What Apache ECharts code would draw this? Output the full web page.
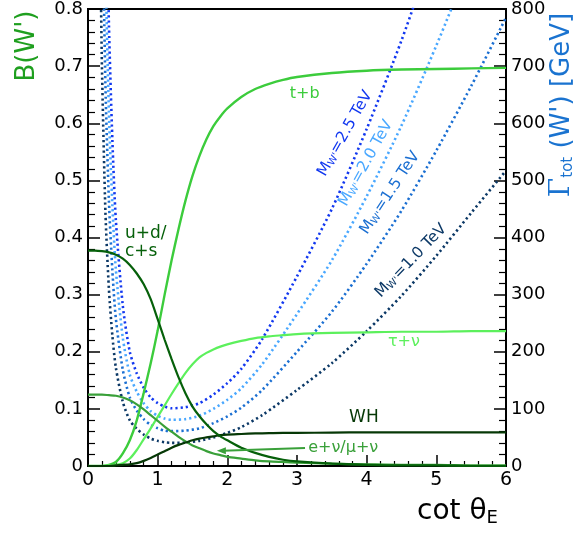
<!DOCTYPE html>
<html><head><meta charset="utf-8">
<script src="https://cdn.jsdelivr.net/npm/echarts@6/dist/echarts.min.js"></script>
<style>html,body{margin:0;padding:0;background:#fff}#c{width:578px;height:536px}</style>
</head><body><div id="c"></div>
<script>
// ---- Branching ratios B(W') vs cot(theta_E) ----
const cot = [0,0.1,0.2,0.3,0.4,0.5,0.6,0.7,0.8,0.9,1.0,1.1,1.2,1.3,1.4,1.5,1.6,1.7,1.8,1.9,2.0,2.2,2.4,2.6,2.8,3.0,3.5,4.0,4.5,5.0,5.5,6.0];
const brTB   = [0,0,0,0.002,0.007,0.022,0.045,0.08,0.128,0.18,0.237,0.30,0.36,0.415,0.465,0.508,0.543,0.572,0.595,0.612,0.626,0.646,0.66,0.669,0.676,0.681,0.688,0.692,0.694,0.695,0.696,0.697];
const brTau  = [0,0,0,0.001,0.002,0.005,0.013,0.028,0.047,0.066,0.086,0.106,0.126,0.145,0.163,0.178,0.19,0.198,0.204,0.209,0.213,0.219,0.224,0.227,0.229,0.231,0.233,0.234,0.235,0.235,0.236,0.236];
const brWH   = [0,0,0,0,0.001,0.002,0.003,0.005,0.009,0.014,0.02,0.026,0.032,0.037,0.041,0.045,0.048,0.05,0.052,0.054,0.055,0.056,0.057,0.0575,0.058,0.058,0.0585,0.059,0.059,0.059,0.059,0.059];
const brENu  = [0.125,0.125,0.125,0.124,0.123,0.12,0.115,0.108,0.099,0.089,0.079,0.069,0.06,0.051,0.043,0.036,0.031,0.026,0.022,0.019,0.016,0.013,0.01,0.008,0.007,0.006,0.004,0.003,0.002,0.002,0.001,0.001];
const brUDCS = [0.377,0.377,0.376,0.374,0.37,0.363,0.352,0.337,0.318,0.292,0.257,0.221,0.187,0.155,0.127,0.104,0.087,0.073,0.061,0.052,0.045,0.032,0.023,0.016,0.011,0.008,0.004,0.002,0.001,0.001,0,0];

// ---- Total width Gamma_tot(W') [GeV] ----
const cotW = [0.18,0.2,0.25,0.3,0.35,0.4,0.5,0.6,0.7,0.8,0.9,1.0,1.1,1.2,1.4,1.6,1.8,2.0,2.2,2.5,3.0,3.5,4.0,4.5,5.0,5.5,6.0];
const width10 = [880,700,445,310,228,172,112,80,65,55,48,44,41.5,40.5,41,44,50,58,68,89,133,180,236,298,368,443,517];
const width15 = [1320,1050,668,465,342,258,168,120,97,82,72,66,62,61,62,66,75,87,102,133,200,270,354,447,552,665,785];
const width20 = [1760,1400,890,620,456,344,224,160,130,110,96,88,83,81,82,88,100,116,136,178,266,360,472,596,736,886,1034];
const width25 = [2200,1750,1112,775,570,430,280,200,162,137,120,110,104,101,103,110,125,145,170,222,332,450,590,745,920,1108,1293];

const leftTicks = {min:0, max:0.8, interval:0.1};
const rightTicks = {min:0, max:800, interval:100};
const xTicks = {min:0, max:6, interval:1};

const FONT = 'DejaVu Sans';
const pairs = (xs, ys) => xs.map((x,i)=>[x, ys[i]]);

const chart = echarts.init(document.getElementById('c'), null, {renderer:'canvas'});

function mkAxis(extra, tickLen, minorLen) {
  return Object.assign({
    axisLine:{show:true, onZero:false, lineStyle:{color:'#000', width:2}},
    axisTick:{show:true, inside:true, length:tickLen, lineStyle:{color:'#000', width:1.5}},
    minorTick:{show:true, splitNumber:5, length:minorLen, lineStyle:{color:'#000', width:1.2}},
    splitLine:{show:false},
    minorSplitLine:{show:false}
  }, extra);
}

function brSeries(name, ys, color, w) {
  return {name, type:'line', xAxisIndex:0, yAxisIndex:0, data:pairs(cot, ys), showSymbol:false,
    smooth:0.25, lineStyle:{color, width:w}, z:3};
}
function wSeries(name, ys, color) {
  return {name, type:'line', xAxisIndex:0, yAxisIndex:1, data:pairs(cotW, ys), showSymbol:false,
    smooth:0.25, clip:true, lineStyle:{color, width:2.6, type:[2.2,3]}, z:2};
}

chart.setOption({
  animation:false,
  backgroundColor:'#fff',
  grid:{left:88, right:72, top:8, bottom:70, show:true, borderColor:'#000', borderWidth:2, backgroundColor:'transparent', z:0},
  xAxis:[mkAxis({type:'value', position:'bottom', min:xTicks.min, max:xTicks.max, interval:xTicks.interval,
    axisLabel:{color:'#000', fontFamily:FONT, fontSize:19, margin:5}}, 11, 5)],
  yAxis:[
    mkAxis({type:'value', position:'left', min:leftTicks.min, max:leftTicks.max, interval:leftTicks.interval,
      axisLabel:{color:'#000', fontFamily:FONT, fontSize:18, margin:5}}, 12, 7),
    mkAxis({type:'value', position:'right', min:rightTicks.min, max:rightTicks.max, interval:rightTicks.interval,
      axisLabel:{color:'#000', fontFamily:FONT, fontSize:18, margin:5}}, 12, 7)
  ],
  series:[
    wSeries('M1.0', width10, '#0b3866'),
    wSeries('M1.5', width15, '#1b6fd2'),
    wSeries('M2.0', width20, '#4aa8ff'),
    wSeries('M2.5', width25, '#1238f0'),
    brSeries('t+b', brTB, '#3ccc3c', 2.4),
    brSeries('tau+nu', brTau, '#5cf05c', 2.2),
    brSeries('e+nu', brENu, '#39a039', 2.2),
    brSeries('WH', brWH, '#063806', 2.2),
    brSeries('u+d', brUDCS, '#06600a', 2.2)
  ]
});

const pL = (x,y)=>chart.convertToPixel({xAxisIndex:0, yAxisIndex:0}, [x,y]);
const pR = (x,y)=>chart.convertToPixel({xAxisIndex:0, yAxisIndex:1}, [x,y]);

function txt(p, text, color, size, opts) {
  opts = opts || {};
  return {type:'text', x:p[0], y:p[1], rotation:opts.rot||0, z:10,
    style:{text, fill:color, font:(size)+'px "'+FONT+'"', align:opts.align||'center', verticalAlign:'middle',
      rich:opts.rich}};
}
function massLabel(p, m, color, deg) {
  return txt(p, '{m|M}{s|W\'}{m|=' + m + ' TeV}', color, 15, {rot:deg*Math.PI/180,
    rich:{m:{fontFamily:FONT, fontSize:15.5, fill:color}, s:{fontFamily:FONT, fontSize:10, fill:color, verticalAlign:'bottom', padding:[6,0,0,0]}}});
}

const a1 = pL(3.115, 0.0314), a2 = pL(1.85, 0.0267);
const graphics = [
  txt(pL(3.11,0.652), 't+b', '#3ccc3c', 16),
  txt(pL(4.535,0.218), 'τ+ν', '#5cf05c', 16),
  txt(pL(3.96,0.084), 'WH', '#063806', 17),
  txt(pL(3.16,0.0315), 'e+ν/μ+ν', '#39a039', 16, {align:'left'}),
  txt(pL(0.53,0.406), 'u+d/', '#06600a', 17, {align:'left'}),
  txt(pL(0.53,0.3755), 'c+s', '#06600a', 17, {align:'left'}),
  {type:'line', z:10, shape:{x1:a1[0], y1:a1[1], x2:a2[0]+6, y2:a2[1]}, style:{stroke:'#39a039', lineWidth:2}},
  {type:'polygon', z:10, shape:{points:[[a2[0],a2[1]],[a2[0]+9,a2[1]-3.5],[a2[0]+9,a2[1]+3.5]]}, style:{fill:'#39a039'}},
  massLabel(pR(3.69,582), '2.5', '#1238f0', 60.5),
  massLabel(pR(3.99,530), '2.0', '#4aa8ff', 61),
  massLabel(pR(4.335,478), '1.5', '#1b6fd2', 56.5),
  massLabel(pR(4.636,359), '1.0', '#0b3866', 46),
  {type:'text', x:27, y:46, rotation:Math.PI/2, z:10,
    style:{text:"B(W')", fill:'#1f9f1f', font:'26px "'+FONT+'"', align:'center', verticalAlign:'middle'}},
  {type:'text', x:562, y:105, rotation:Math.PI/2, z:10,
    style:{text:"{g|Γ}{s|tot}{t| (W') [GeV]}", align:'center', verticalAlign:'middle',
      rich:{g:{fontFamily:'DejaVu Serif', fontSize:28, fill:'#1a73d0'}, s:{fontFamily:FONT, fontSize:15, fill:'#1a73d0', verticalAlign:'bottom', padding:[10,0,0,0]}, t:{fontFamily:FONT, fontSize:26, fill:'#1a73d0'}}}},
  {type:'text', x:417, y:512, z:10,
    style:{text:"{a|cot θ}{s|E}", align:'left', verticalAlign:'middle',
      rich:{a:{fontFamily:FONT, fontSize:28, fill:'#000'}, s:{fontFamily:FONT, fontSize:18, fill:'#000', verticalAlign:'bottom', padding:[12,0,0,0]}}}}
];
chart.setOption({graphic:graphics});
</script></body></html>
